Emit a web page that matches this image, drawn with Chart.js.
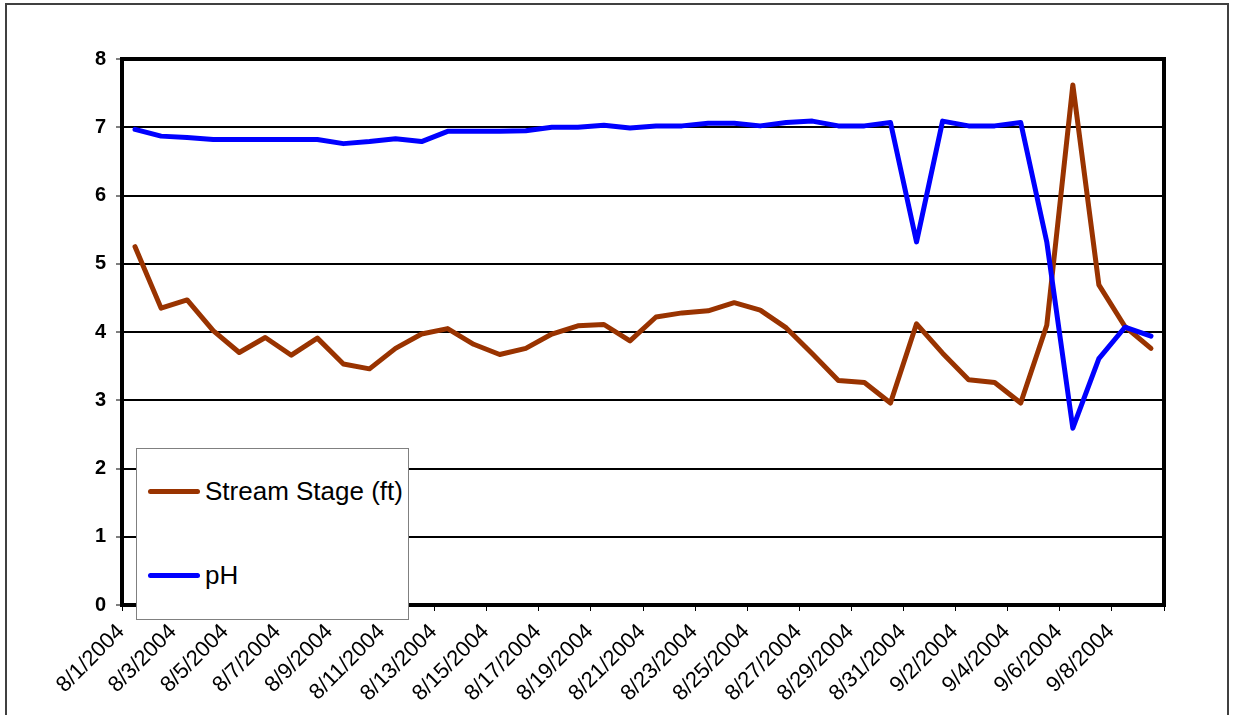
<!DOCTYPE html>
<html>
<head>
<meta charset="utf-8">
<title>Stream Stage and pH</title>
<script src="https://cdn.jsdelivr.net/npm/chart.js@4/dist/chart.umd.min.js"></script>
<style>
    html, body { margin: 0; padding: 0; background: #fff; overflow: hidden; }
    #wrap { position: relative; width: 1233px; height: 715px; }
    #frame {
        position: absolute; left: 5px; top: 3px; width: 1224px; height: 800px;
        border: 2px solid #404040; box-sizing: border-box;
    }
    #chart { position: absolute; left: 0; top: 0; }
    #legend {
        position: absolute; left: 136px; top: 448px; width: 273px; height: 172px;
        background: #fff; border: 1px solid #808080; box-sizing: border-box;
        font-family: "Liberation Sans", Arial, sans-serif; font-size: 26px; color: #000;
    }
    .item { position: absolute; left: 11px; height: 30px; line-height: 30px; white-space: nowrap; }
    .swatch {
        display: inline-block; width: 52px; height: 5px; border-radius: 3px;
        vertical-align: middle; margin-right: 5px; position: relative; top: -2px;
    }
</style>
</head>
<body>
<div id="wrap">
    <div id="frame"></div>
    <canvas id="chart" width="1233" height="715"></canvas>
    <div id="legend">
        <div class="item" style="top: 27px;"><span class="swatch" style="background: #993300;"></span>Stream Stage (ft)</div>
        <div class="item" style="top: 111px;"><span class="swatch" style="background: #0000ff;"></span>pH</div>
    </div>
</div>
<script>
    var dates = [
        '8/1/2004', '8/2/2004', '8/3/2004', '8/4/2004', '8/5/2004', '8/6/2004', '8/7/2004', '8/8/2004',
        '8/9/2004', '8/10/2004', '8/11/2004', '8/12/2004', '8/13/2004', '8/14/2004', '8/15/2004', '8/16/2004',
        '8/17/2004', '8/18/2004', '8/19/2004', '8/20/2004', '8/21/2004', '8/22/2004', '8/23/2004', '8/24/2004',
        '8/25/2004', '8/26/2004', '8/27/2004', '8/28/2004', '8/29/2004', '8/30/2004', '8/31/2004', '9/1/2004',
        '9/2/2004', '9/3/2004', '9/4/2004', '9/5/2004', '9/6/2004', '9/7/2004', '9/8/2004', '9/9/2004'
    ];
    var streamStage = [
        5.25, 4.35, 4.47, 4.02, 3.70, 3.92, 3.66, 3.91, 3.53, 3.46,
        3.76, 3.97, 4.05, 3.82, 3.67, 3.76, 3.97, 4.09, 4.11, 3.87,
        4.22, 4.28, 4.31, 4.43, 4.32, 4.06, 3.68, 3.29, 3.26, 2.96,
        4.12, 3.69, 3.30, 3.26, 2.96, 4.10, 7.62, 4.69, 4.08, 3.76
    ];
    var pH = [
        6.97, 6.87, 6.85, 6.82, 6.82, 6.82, 6.82, 6.82, 6.76, 6.79,
        6.83, 6.79, 6.94, 6.94, 6.94, 6.95, 7.00, 7.00, 7.03, 6.99,
        7.02, 7.02, 7.06, 7.06, 7.02, 7.07, 7.09, 7.02, 7.02, 7.07,
        5.32, 7.09, 7.02, 7.02, 7.07, 5.32, 2.59, 3.61, 4.07, 3.94
    ];
    var yTicks = [0, 1, 2, 3, 4, 5, 6, 7, 8];

    // heavy black box around the plot area
    var plotBorder = {
        id: 'plotBorder',
        afterDraw: function (chart) {
            var a = chart.chartArea;
            var ctx = chart.ctx;
            ctx.save();
            ctx.strokeStyle = '#000';
            ctx.lineWidth = 4;
            ctx.strokeRect(a.left, a.top, a.right - a.left, a.bottom - a.top);
            ctx.restore();
        }
    };

    var config = {
        type: 'line',
        data: {
            labels: dates,
            datasets: [
                {
                    label: 'Stream Stage (ft)',
                    data: streamStage,
                    borderColor: '#993300',
                    borderWidth: 5,
                    pointRadius: 0,
                    tension: 0,
                    borderJoinStyle: 'round',
                    borderCapStyle: 'round',
                    order: 1
                },
                {
                    label: 'pH',
                    data: pH,
                    borderColor: '#0000ff',
                    borderWidth: 5,
                    pointRadius: 0,
                    tension: 0,
                    borderJoinStyle: 'round',
                    borderCapStyle: 'round',
                    order: 0
                }
            ]
        },
        options: {
            responsive: false,
            animation: false,
            layout: { padding: { left: 0, top: 59, right: 69, bottom: 0 } },
            plugins: {
                legend: { display: false },
                tooltip: { enabled: false }
            },
            scales: {
                x: {
                    offset: true,
                    border: { display: false },
                    grid: {
                        offset: true,
                        drawOnChartArea: false,
                        tickLength: 6,
                        tickWidth: 1,
                        tickColor: function (c) {
                            if (c.index === undefined) return '#000';
                            return c.index % 2 === 0 ? '#000' : 'rgba(0,0,0,0)';
                        }
                    },
                    ticks: {
                        autoSkip: false,
                        minRotation: 45,
                        maxRotation: 45,
                        labelOffset: -14,
                        padding: 8,
                        color: '#000',
                        font: { family: '"Liberation Sans", Arial, sans-serif', size: 22 },
                        callback: function (val, i) {
                            return i % 2 === 0 ? this.getLabelForValue(val) : '';
                        }
                    },
                    afterFit: function (scale) { scale.height = 110; }
                },
                y: {
                    min: 0,
                    max: 8,
                    border: { display: false },
                    afterBuildTicks: function (scale) {
                        scale.ticks = yTicks.map(function (v) { return { value: v }; });
                    },
                    grid: {
                        color: '#000',
                        lineWidth: 2,
                        tickLength: 6,
                        tickWidth: 1,
                        tickColor: '#000'
                    },
                    ticks: {
                        padding: 10,
                        color: '#000',
                        font: { family: '"Liberation Sans", Arial, sans-serif', size: 20, weight: 'bold' }
                    },
                    afterFit: function (scale) { scale.width = 122; }
                }
            }
        },
        plugins: [plotBorder]
    };

    var ctx = document.getElementById('chart').getContext('2d');
    window.stageChart = new Chart(ctx, config);
</script>
</body>
</html>
